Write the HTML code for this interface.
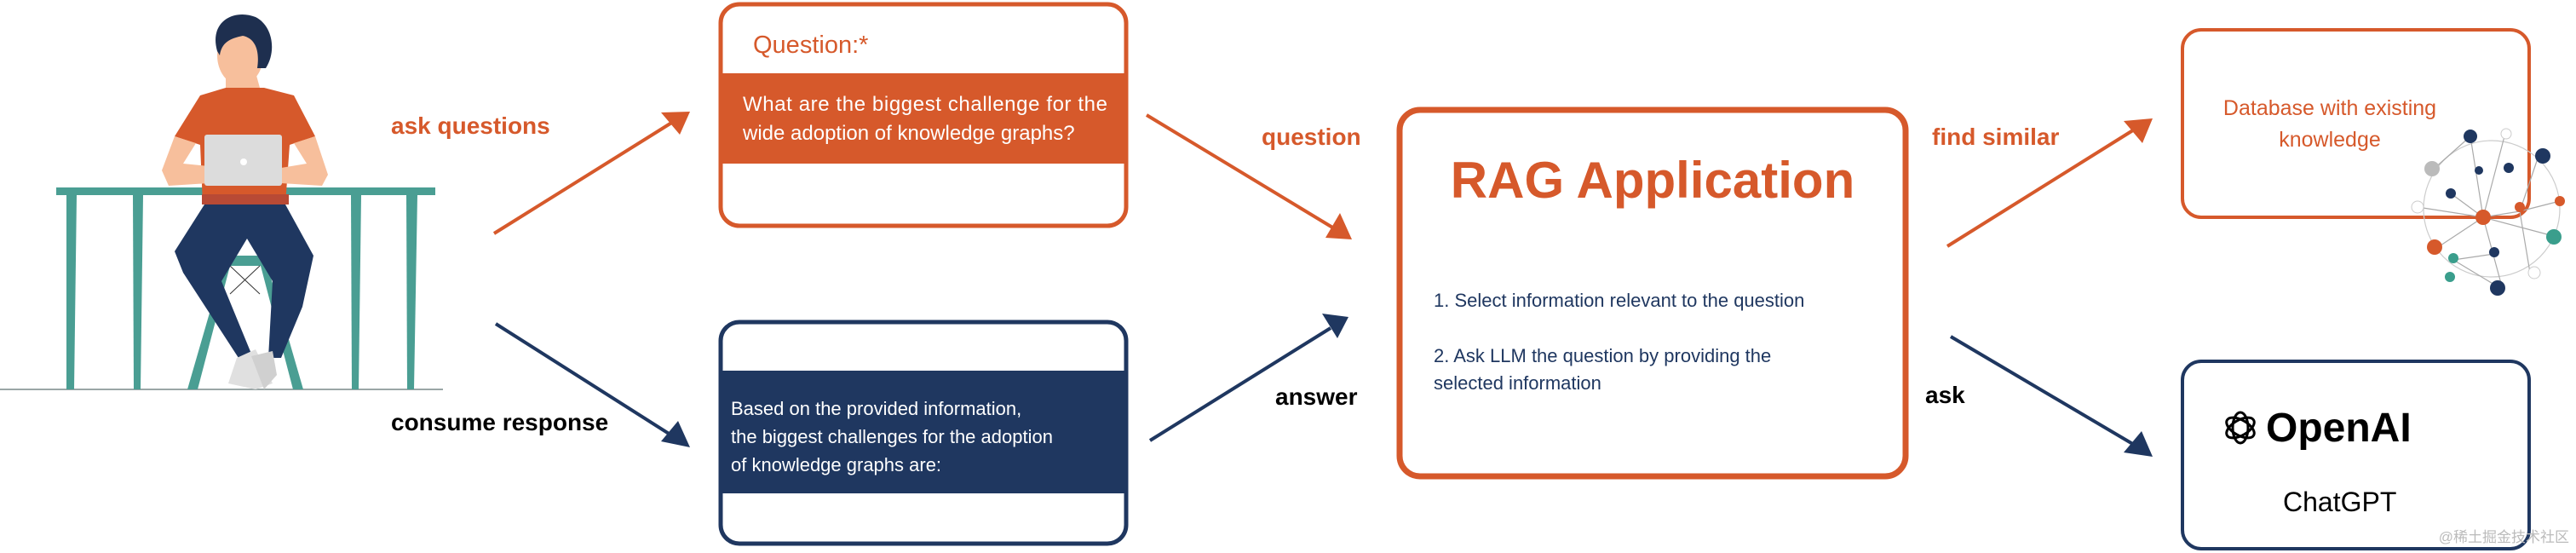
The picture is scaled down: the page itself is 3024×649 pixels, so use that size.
<!DOCTYPE html>
<html><head><meta charset="utf-8"><style>
html,body{margin:0;padding:0;background:#fff;}
svg{display:block}
text{font-family:"Liberation Sans",sans-serif;}
</style></head><body>
<svg width="3024" height="649" viewBox="0 0 3024 649" xmlns="http://www.w3.org/2000/svg">
<!-- Person illustration -->
<g>
<line x1="0" y1="457" x2="520" y2="457" stroke="#9aa6a6" stroke-width="2"/>
<polygon points="258,300 318,300 314,312 262,312" fill="#4a9e93"/>
<polygon points="262,312 270,312 232,457 220,457" fill="#4a9e93"/>
<polygon points="306,312 314,312 356,457 344,457" fill="#4a9e93"/>
<line x1="270" y1="312" x2="305" y2="345" stroke="#333" stroke-width="1"/>
<line x1="305" y1="312" x2="270" y2="345" stroke="#333" stroke-width="1"/>
<rect x="66" y="220" width="445" height="9" fill="#4a9e93"/>
<polygon points="78,229 90,229 87,457 78,457" fill="#4a9e93"/>
<polygon points="156,229 168,229 165,457 157,457" fill="#4a9e93"/>
<polygon points="412,229 424,229 421,457 413,457" fill="#4a9e93"/>
<polygon points="477,229 490,229 486,457 478,457" fill="#4a9e93"/>
<path d="M205,160 L235,112 L265,103 L310,103 L345,112 L370,160 L340,170 L335,240 L238,240 L235,170 Z" fill="#d6592b"/>
<rect x="237" y="228" width="102" height="12" fill="#b84a35"/>
<path d="M205,160 L190,200 L198,218 L245,215 L245,195 L215,192 L230,168 Z" fill="#f7bf9c"/>
<path d="M370,160 L385,205 L378,218 L330,215 L330,197 L360,192 L345,168 Z" fill="#f7bf9c"/>
<rect x="240" y="158" width="91" height="60" rx="3" fill="#dcdcdc"/>
<circle cx="286" cy="190" r="4" fill="#fff"/>
<path d="M265,85 L300,85 L305,103 L265,103 Z" fill="#f7bf9c"/>
<ellipse cx="282" cy="65" rx="27" ry="35" fill="#f7bf9c"/>
<path d="M255,60 C245,25 275,10 300,20 C320,30 325,60 312,80 L302,80 C305,60 300,45 285,42 C270,45 260,50 258,65 Z" fill="#1e2f4f"/>
<path d="M240,240 L335,240 L368,300 L355,360 L330,420 L315,420 L320,330 L290,280 L260,330 L295,415 L280,420 L215,320 L205,295 Z" fill="#1f3760"/>
<path d="M278,420 L300,410 L320,450 L300,457 L268,450 Z" fill="#e0e0e0"/>
<path d="M295,418 L320,412 L325,440 L310,457 Z" fill="#d0d0d0"/>
</g>

<!-- Labels -->
<text x="459" y="157" font-size="28" font-weight="bold" fill="#d6592b">ask questions</text>
<text x="459" y="505" font-size="28" font-weight="bold" fill="#000">consume response</text>
<text x="1481" y="170" font-size="28" font-weight="bold" fill="#d6592b">question</text>
<text x="1497" y="475" font-size="28" font-weight="bold" fill="#000">answer</text>
<text x="2268" y="170" font-size="28" font-weight="bold" fill="#d6592b">find similar</text>
<text x="2260" y="473" font-size="28" font-weight="bold" fill="#000">ask</text>

<!-- Arrows -->
<g stroke-width="4" fill="none">
<line x1="580" y1="274" x2="790" y2="143" stroke="#d6592b"/>
<line x1="582" y1="380" x2="790" y2="512" stroke="#1f3760"/>
<line x1="1346" y1="135" x2="1566" y2="268" stroke="#d6592b"/>
<line x1="1350" y1="517" x2="1562" y2="385" stroke="#1f3760"/>
<line x1="2286" y1="289" x2="2507" y2="151" stroke="#d6592b"/>
<line x1="2290" y1="395" x2="2507" y2="523" stroke="#1f3760"/>
</g>
<polygon points="810,131 776,132 798,158" fill="#d6592b"/>
<polygon points="810,525 796,494 776,518" fill="#1f3760"/>
<polygon points="1587,281 1556,279 1573,250" fill="#d6592b"/>
<polygon points="1583,372 1552,368 1570,397" fill="#1f3760"/>
<polygon points="2527,139 2493,142 2515,168" fill="#d6592b"/>
<polygon points="2527,536 2514,506 2493,531" fill="#1f3760"/>

<!-- Question box -->
<rect x="846" y="5" width="476" height="260" rx="22" fill="#fff" stroke="#d6592b" stroke-width="5"/>
<rect x="846" y="86" width="476" height="106" fill="#d6592b"/>
<text x="884" y="62" font-size="29" fill="#d6592b">Question:*</text>
<text x="872" y="130" font-size="24" fill="#fff" textLength="428">What are the biggest challenge for the</text>
<text x="872" y="164" font-size="24" fill="#fff">wide adoption of knowledge graphs?</text>

<!-- Answer box -->
<rect x="846" y="378" width="476" height="260" rx="22" fill="#fff" stroke="#1f3760" stroke-width="5"/>
<rect x="846" y="435" width="476" height="144" fill="#1f3760"/>
<text x="858" y="487" font-size="22" fill="#fff">Based on the provided information,</text>
<text x="858" y="520" font-size="22" fill="#fff">the biggest challenges for the adoption</text>
<text x="858" y="553" font-size="22" fill="#fff">of knowledge graphs are:</text>

<!-- RAG box -->
<rect x="1643" y="129" width="594" height="430" rx="24" fill="#fff" stroke="#d6592b" stroke-width="7"/>
<text x="1940" y="232" font-size="60" font-weight="bold" fill="#d6592b" text-anchor="middle">RAG Application</text>
<text x="1683" y="360" font-size="22" fill="#1f3760">1. Select information relevant to the question</text>
<text x="1683" y="425" font-size="22" fill="#1f3760">2. Ask LLM the question by providing the</text>
<text x="1683" y="457" font-size="22" fill="#1f3760">selected information</text>

<!-- Database box -->
<rect x="2562" y="35" width="407" height="220" rx="22" fill="#fff" stroke="#d6592b" stroke-width="4"/>
<text x="2735" y="135" font-size="25" fill="#d6592b" text-anchor="middle">Database with existing</text>
<text x="2735" y="172" font-size="25" fill="#d6592b" text-anchor="middle">knowledge</text>
<g stroke="#aaa" stroke-width="1.2" fill="none">
<circle cx="2925" cy="245" r="80" stroke="#ccc"/>
<line x1="2900" y1="160" x2="2915" y2="255"/><line x1="2900" y1="160" x2="2855" y2="200"/>
<line x1="2915" y1="255" x2="2862" y2="290"/><line x1="2915" y1="255" x2="2990" y2="275"/>
<line x1="2915" y1="255" x2="2938" y2="340"/><line x1="2915" y1="255" x2="2958" y2="248"/>
<line x1="2958" y1="248" x2="2980" y2="183"/><line x1="2940" y1="160" x2="2915" y2="255"/>
<line x1="2838" y1="243" x2="2915" y2="255"/><line x1="2877" y1="227" x2="2915" y2="255"/>
<line x1="2928" y1="298" x2="2880" y2="305"/><line x1="2880" y1="305" x2="2938" y2="340"/>
<line x1="2958" y1="248" x2="2970" y2="320"/><line x1="3005" y1="236" x2="2958" y2="248"/>
</g>
<circle cx="2900" cy="160" r="8" fill="#1f3760"/>
<circle cx="2855" cy="198" r="9" fill="#bbb"/>
<circle cx="2942" cy="157" r="6" fill="#fff" stroke="#ccc"/>
<circle cx="2985" cy="183" r="9" fill="#1f3760"/>
<circle cx="2910" cy="200" r="5" fill="#1f3760"/>
<circle cx="2945" cy="197" r="6" fill="#1f3760"/>
<circle cx="2877" cy="227" r="6" fill="#1f3760"/>
<circle cx="2838" cy="243" r="7" fill="#fff" stroke="#ccc"/>
<circle cx="2915" cy="255" r="9" fill="#d6592b"/>
<circle cx="2958" cy="243" r="6" fill="#d6592b"/>
<circle cx="3005" cy="236" r="6" fill="#d6592b"/>
<circle cx="2998" cy="278" r="9" fill="#3a9e8c"/>
<circle cx="2858" cy="290" r="9" fill="#d6592b"/>
<circle cx="2880" cy="303" r="6" fill="#3a9e8c"/>
<circle cx="2928" cy="296" r="6" fill="#1f3760"/>
<circle cx="2975" cy="320" r="7" fill="#fff" stroke="#ccc"/>
<circle cx="2876" cy="325" r="6" fill="#3a9e8c"/>
<circle cx="2932" cy="338" r="9" fill="#1f3760"/>

<!-- OpenAI box -->
<rect x="2562" y="424" width="407" height="220" rx="22" fill="#fff" stroke="#1f3760" stroke-width="4"/>
<g transform="translate(2630,502)" stroke="#000" stroke-width="3" fill="none">
<ellipse cx="0" cy="0" rx="9" ry="18"/>
<ellipse cx="0" cy="0" rx="9" ry="18" transform="rotate(60)"/>
<ellipse cx="0" cy="0" rx="9" ry="18" transform="rotate(-60)"/>
</g>
<text x="2660" y="518" font-size="48" font-weight="bold" fill="#000">OpenAI</text>
<text x="2680" y="600" font-size="32" fill="#000">ChatGPT</text>
<text x="3016" y="636" font-size="17" fill="#bbb" text-anchor="end" font-family="Liberation Sans, Noto Sans CJK SC, sans-serif">@稀土掘金技术社区</text>
</svg>
</body></html>
